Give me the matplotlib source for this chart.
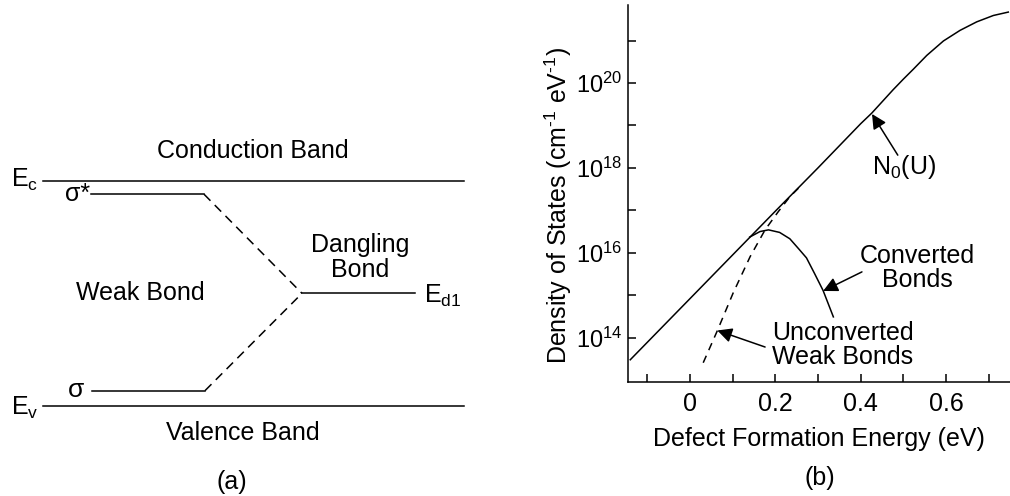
import numpy as np
import matplotlib
matplotlib.use("Agg")
import matplotlib.pyplot as plt
from matplotlib.ticker import FixedLocator, FuncFormatter

plt.rcParams['font.family'] = ['Liberation Sans', 'DejaVu Sans']
plt.rcParams['mathtext.fontset'] = 'custom'
plt.rcParams['mathtext.rm'] = 'Liberation Sans'
plt.rcParams['mathtext.it'] = 'Liberation Sans:italic'

# ---- panel (a): level energies, Ev = 0, Ec = 1
E_c = 1.0
E_v = 0.0
sigma_star = 0.94
sigma = 0.068
E_d1 = 0.5

# ---- panel (b), log10 of the density
n0_x = [-0.14, 0.0, 0.1, 0.2, 0.3, 0.4, 0.426, 0.476, 0.50, 0.523, 0.555, 0.594, 0.633, 0.672, 0.711, 0.746]
n0_log = [13.48, 14.92, 15.95, 16.98, 18.0, 19.04, 19.29, 19.84, 20.09, 20.32, 20.65, 20.99, 21.24, 21.44, 21.59, 21.67]

conv_x = [0.14, 0.164, 0.184, 0.21, 0.234, 0.255, 0.273, 0.292, 0.312, 0.336]
conv_log = [16.37, 16.50, 16.54, 16.48, 16.33, 16.09, 15.88, 15.51, 15.11, 14.49]

unconv_x = [0.031, 0.063, 0.101, 0.141, 0.176, 0.207, 0.234, 0.258]
unconv_log = [13.41, 14.14, 15.05, 15.91, 16.54, 16.97, 17.32, 17.56]

xticks = [-0.1, 0.0, 0.1, 0.2, 0.3, 0.4, 0.5, 0.6, 0.7]
xtick_labels = {0.0: '0', 0.2: '0.2', 0.4: '0.4', 0.6: '0.6'}
ydecades = [14, 15, 16, 17, 18, 19, 20, 21]
ylabeled = [14, 16, 18, 20]

fs = 18
lw = 1.1

fig = plt.figure(figsize=(10.1, 4.96), dpi=100)

# ---------------- (a)
axa = fig.add_axes([0, 0, 465 / 1010, 1])
axa.set_xlim(0, 465)
axa.set_ylim(-0.3995, 1.802)
axa.axis('off')

axa.plot([43, 464], [E_c, E_c], color='k', lw=lw)
axa.plot([43, 464], [E_v, E_v], color='k', lw=lw)
axa.plot([91, 204], [sigma_star, sigma_star], color='k', lw=lw)
axa.plot([92, 205], [sigma, sigma], color='k', lw=lw)
axa.plot([302, 415], [E_d1, E_d1], color='k', lw=lw)
axa.plot([204, 302], [sigma_star, E_d1], color='k', lw=lw, dashes=(6, 4))
axa.plot([205, 302], [sigma, E_d1], color='k', lw=lw, dashes=(6, 4))

axa.text(253, 1.132, 'Conduction Band', fontsize=fs, ha='center', va='center')
axa.text(243, -0.12, 'Valence Band', fontsize=fs, ha='center', va='center')
axa.text(140, E_d1, 'Weak Bond', fontsize=fs, ha='center', va='center')
axa.text(360, 0.659, 'Dangling\nBond', fontsize=fs, ha='center', va='center',
         linespacing=1.1)
axa.text(90, sigma_star, 'σ*', fontsize=fs, ha='right', va='center')
axa.text(84, sigma + 0.005, 'σ', fontsize=fs + 1, ha='right', va='center')
axa.text(11, 0.972, r'E$_\mathregular{c}$', fontsize=fs, ha='left', va='baseline')
axa.text(11, -0.04, r'E$_\mathregular{v}$', fontsize=fs, ha='left', va='baseline')
axa.text(424, 0.457, r'E$_\mathregular{d1}$', fontsize=fs, ha='left', va='baseline')
axa.text(232, -0.337, '(a)', fontsize=fs, ha='center', va='center')

# ---------------- (b)
ax = fig.add_axes([628 / 1010, 114 / 496, 382 / 1010, 377 / 496])
ax.semilogy(n0_x, np.power(10.0, n0_log), color='k', lw=lw)
ax.semilogy(conv_x, np.power(10.0, conv_log), color='k', lw=lw)
ax.semilogy(unconv_x, np.power(10.0, unconv_log), color='k', lw=lw, dashes=(5, 4))

ax.set_xlim(-0.1453, 0.75)
ax.set_ylim(10 ** 12.956, 10 ** 21.837)

ax.spines['top'].set_visible(False)
ax.spines['right'].set_visible(False)
for s in ['left', 'bottom']:
    ax.spines[s].set_linewidth(1.1)

ax.xaxis.set_major_locator(FixedLocator(xticks))
ax.xaxis.set_major_formatter(FuncFormatter(lambda v, p: xtick_labels.get(round(v, 1), '')))
ax.yaxis.set_major_locator(FixedLocator([10.0 ** d for d in ydecades]))
ax.yaxis.set_minor_locator(FixedLocator([]))
ax.yaxis.set_major_formatter(FuncFormatter(
    lambda v, p: r'$\mathregular{10^{%d}}$' % round(np.log10(v)) if round(np.log10(v)) in ylabeled else ''))
ax.tick_params(axis='both', direction='in', length=6, width=1.1)
ax.tick_params(axis='x', labelsize=fs, pad=7)
ax.tick_params(axis='y', labelsize=17, pad=4)

ax.set_xlabel('Defect Formation Energy (eV)', fontsize=fs, labelpad=8)
ax.set_ylabel(r'Density of States (cm$^{\text{-1}}$ eV$^{\text{-1}}$)', fontsize=fs)
ax.yaxis.set_label_coords(-0.142, 0.468)

arrow = dict(arrowstyle='-|>', color='k', lw=1.1, mutation_scale=22, shrinkA=0, shrinkB=0)
ax.text(0.5015, 10 ** 18.02, r'N$_\mathregular{0}$(U)', fontsize=fs, ha='center', va='center')
ax.annotate('', xy=(0.4266, 10 ** 19.27), xytext=(0.487, 10 ** 18.3), arrowprops=arrow)
ax.text(0.532, 10 ** 15.64, 'Converted\nBonds', fontsize=fs, ha='center', va='center',
        linespacing=1.0)
ax.annotate('', xy=(0.312, 10 ** 15.1), xytext=(0.403, 10 ** 15.55), arrowprops=arrow)
ax.text(0.3586, 10 ** 13.83, 'Unconverted\nWeak Bonds', fontsize=fs, ha='center', va='center',
        linespacing=1.0)
ax.annotate('', xy=(0.064, 10 ** 14.17), xytext=(0.176, 10 ** 13.78), arrowprops=arrow)

fig.text(820 / 1010, 1 - 478 / 496, '(b)', fontsize=fs, ha='center', va='center')

fig.savefig('out.png', dpi=100)
